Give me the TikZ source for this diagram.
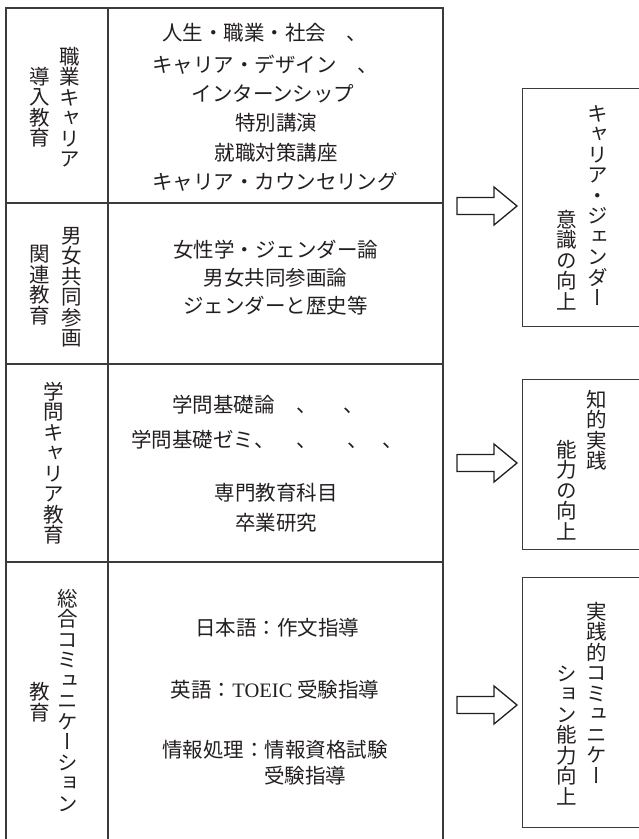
\documentclass[tikz,border=0pt]{standalone}
\usepackage{fontspec}
\newfontfamily\jp{Noto Sans CJK JP}
\newfontfamily\jpv[RawFeature=+vert]{Noto Sans CJK JP}
\newfontfamily\tnr{Liberation Serif}
\definecolor{ink}{HTML}{231F20}
\definecolor{rulec}{HTML}{3C3A3A}
\tikzset{
  htext/.style={font=\jp\fontsize{20.5}{26}\selectfont, inner sep=0pt, text=ink},
  vtext/.style={font=\jpv\fontsize{20.5}{20.5}\selectfont, align=center, inner sep=0pt, text=ink},
  tabline/.style={draw=rulec, line width=1.3pt},
  boxline/.style={draw=rulec, line width=1pt},
  blockarrow/.pic={\draw[line width=1.3pt, draw=ink, fill=white, line join=miter]
     (-30,-8.5) -- (7,-8.5) -- (7,-19) -- (30,0) -- (7,19) -- (7,8.5) -- (-30,8.5) -- cycle;}
}
\begin{document}
\begin{tikzpicture}[x=1pt,y=-1pt]
\useasboundingbox (0,0) rectangle (639,839);
% table
\draw[tabline] (6,839) -- (6,8) -- (443,8) -- (443,839);
\draw[tabline] (108,8) -- (108,839);
\draw[tabline] (6,203) -- (443,203);
\draw[tabline] (6,364) -- (443,364);
\draw[tabline] (6,562) -- (443,562);
% left column (vertical)
\node[vtext] (l1r) at (70,107) {職\\業\\キ\\ャ\\リ\\ア};
\node[vtext] (l1l) at (40,107) {導\\入\\教\\育};
\node[vtext] (l2r) at (72,287) {男\\女\\共\\同\\参\\画};
\node[vtext] (l2l) at (40,285) {関\\連\\教\\育};
\node[vtext] (l3) at (54,463) {学\\問\\キ\\ャ\\リ\\ア\\教\\育};
\node[vtext] (l4r) at (68,700) {総\\合\\コ\\ミ\\ュ\\ニ\\ケ\\ー\\シ\\ョ\\ン};
\node[vtext] (l4l) at (40,702) {教\\育};
% middle column
\node[htext, anchor=west] (c1a) at (162,33) {人生・職業・社会　、};
\node[htext, anchor=west] (c1b) at (152,65) {キャリア・デザイン　、};
\node[htext] (c1c) at (273,94) {インターンシップ};
\node[htext] (c1d) at (276,123) {特別講演};
\node[htext] (c1e) at (276,153) {就職対策講座};
\node[htext] (c1f) at (275,182) {キャリア・カウンセリング};
\node[htext] (c2a) at (275.5,250) {女性学・ジェンダー論};
\node[htext] (c2b) at (275.5,278) {男女共同参画論};
\node[htext] (c2c) at (275.5,306) {ジェンダーと歴史等};
\node[htext, anchor=west] (c3a) at (172,405) {学問基礎論\hspace{22pt}、\hspace{26pt}、};
\node[htext, anchor=west] (c3b) at (131,440) {学問基礎ゼミ、\hspace{22pt}、\hspace{30pt}、\hspace{15pt}、};
\node[htext] (c3c) at (276,493) {専門教育科目};
\node[htext] (c3d) at (276,523) {卒業研究};
\node[htext] (c4a) at (277,628) {日本語：作文指導};
\node[htext] (c4b) at (275,690) {英語：{\tnr TOEIC} 受験指導};
\node[htext, anchor=west] (c4c) at (162,750) {情報処理：情報資格試験};
\node[htext, anchor=west] (c4d) at (264,776) {受験指導};
% arrows
\pic (a1) at (487,206) {blockarrow};
\pic (a2) at (487,463) {blockarrow};
\pic (a3) at (487,705) {blockarrow};
% right boxes
\draw[boxline] (639,88) -- (522,88) -- (522,326) -- (639,326);
\draw[boxline] (639,379) -- (522,379) -- (522,549) -- (639,549);
\draw[boxline] (639,577) -- (522,577) -- (522,827) -- (639,827);
\node[vtext, anchor=north] (r1r) at (598,105) {キ\\ャ\\リ\\ア\\・\\ジ\\ェ\\ン\\ダ\\ー};
\node[vtext, anchor=south] (r1l) at (567,310) {意\\識\\の\\向\\上};
\node[vtext, anchor=north] (r2r) at (597,390) {知\\的\\実\\践};
\node[vtext, anchor=south] (r2l) at (567,540) {能\\力\\の\\向\\上};
\node[vtext, anchor=north] (r3r) at (597,602) {実\\践\\的\\コ\\ミ\\ュ\\ニ\\ケ\\ー};
\node[vtext, anchor=south] (r3l) at (567,805) {シ\\ョ\\ン\\能\\力\\向\\上};
\end{tikzpicture}
\end{document}
